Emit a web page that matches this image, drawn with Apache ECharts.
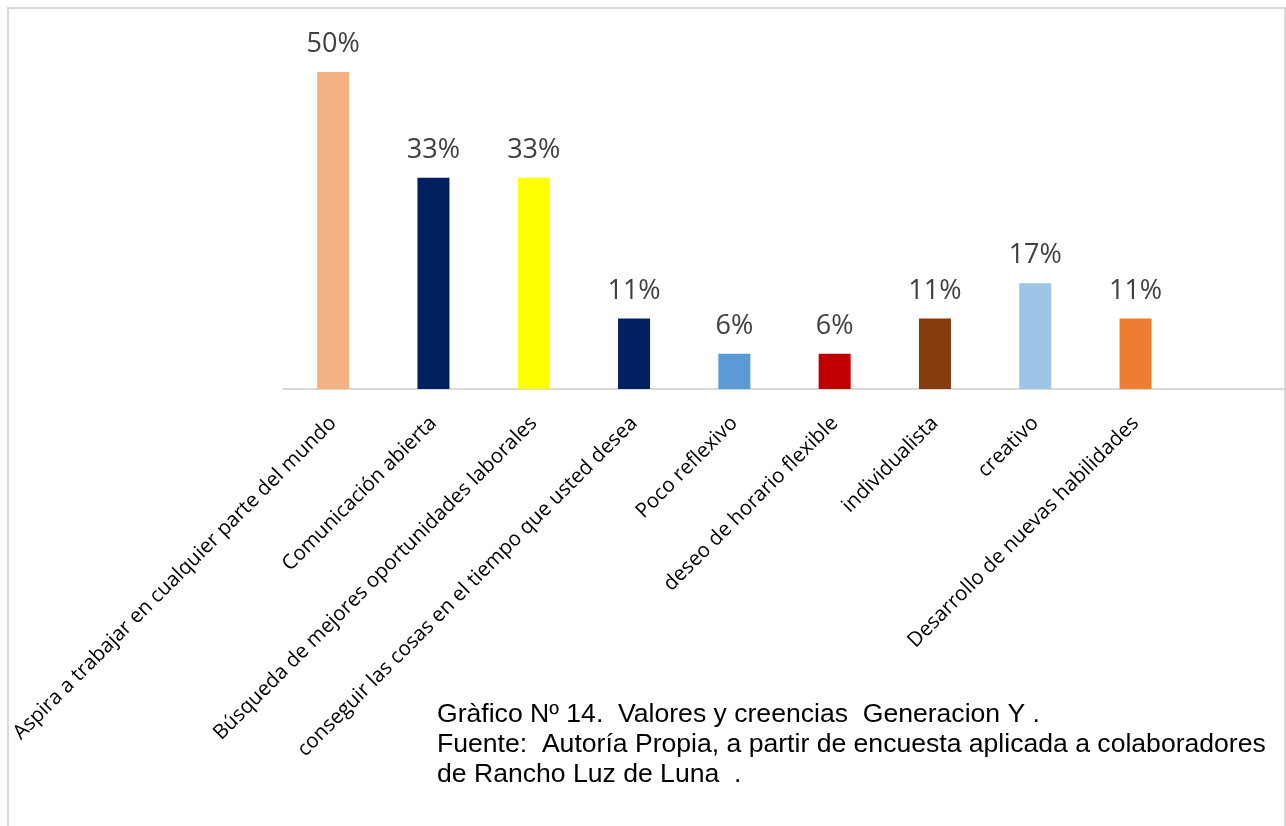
<!DOCTYPE html>
<html>
<head>
<meta charset="utf-8">
<script src="https://cdn.jsdelivr.net/npm/echarts@6/dist/echarts.min.js"></script>
<style>
html,body{margin:0;padding:0;background:#fff;}
#chart{width:1286px;height:826px;}
</style>
</head>
<body>
<div id="chart"></div>
<script>
const categories = [
  'Aspira a trabajar en cualquier parte del mundo',
  'Comunicación abierta',
  'Búsqueda de mejores oportunidades laborales',
  'conseguir las cosas en el tiempo que usted desea',
  'Poco reflexivo',
  'deseo de horario flexible',
  'individualista',
  'creativo',
  'Desarrollo de nuevas habilidades',
  ''
];
const values = [50, 33.33, 33.33, 11.11, 5.56, 5.56, 11.11, 16.67, 11.11, null];
const barColors = ['#F4B183', '#002060', '#FFFF00', '#002060', '#5B9BD5', '#C00000', '#843C0C', '#9DC3E6', '#ED7D31', '#ffffff'];
const captionLines = [
  'Gràfico Nº 14.  Valores y creencias  Generacion Y .',
  'Fuente:  Autoría Propia, a partir de encuesta aplicada a colaboradores',
  'de Rancho Luz de Luna  .'
];

const chart = echarts.init(document.getElementById('chart'), null, {renderer: 'canvas'});
chart.setOption({
  animation: false,
  backgroundColor: '#ffffff',
  grid: {left: 283, right: 0, top: 72, bottom: 437, containLabel: false},
  xAxis: {
    type: 'category',
    data: categories,
    axisLine: {show: true, lineStyle: {color: '#d9d9d9', width: 2}},
    axisTick: {show: false},
    axisLabel: {
      interval: 0,
      rotate: 45,
      margin: 31,
      color: '#000000',
      fontFamily: 'Open Sans',
      fontSize: 20.5
    }
  },
  yAxis: {
    type: 'value',
    min: 0,
    max: 50,
    show: false,
    splitLine: {show: false}
  },
  series: [{
    type: 'bar',
    barWidth: 32,
    data: values.map((v, i) => ({value: v, itemStyle: {color: barColors[i]}})),
    label: {
      show: true,
      position: 'top',
      distance: 14,
      color: '#404040',
      fontFamily: 'Open Sans',
      fontSize: 27,
      formatter: p => p.value == null ? '' : Math.round(p.value) + '%'
    }
  }],
  graphic: [
    {
      type: 'rect',
      shape: {x: 8, y: 8, width: 1277, height: 840},
      style: {fill: 'none', stroke: '#d9d9d9', lineWidth: 2},
      silent: true
    },
    {
      type: 'text',
      x: 437,
      y: 700,
      scaleX: 1.063,
      style: {
        text: captionLines.join('\n'),
        font: '25px "Liberation Sans", Arial, sans-serif',
        lineHeight: 30,
        fill: '#000000'
      }
    }
  ]
});
</script>
</body>
</html>
